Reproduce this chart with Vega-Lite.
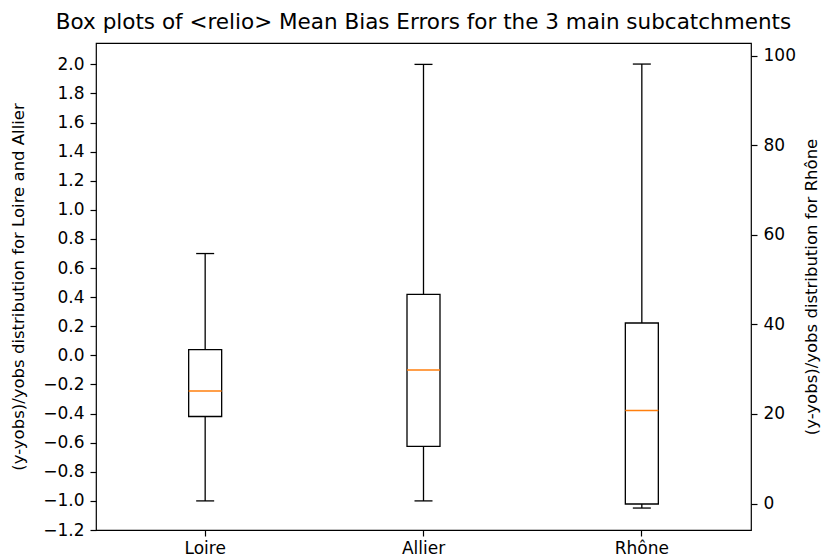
{
  "$schema": "https://vega.github.io/schema/vega-lite/v6.json",
  "width": 655,
  "height": 487,
  "autosize": {"type": "none"},
  "padding": {"left": 96, "top": 43, "right": 73, "bottom": 28},
  "background": "white",
  "title": {
    "text": "Box plots of <relio> Mean Bias Errors for the 3 main subcatchments",
    "font": "DejaVu Sans",
    "fontSize": 21.5,
    "fontWeight": "normal",
    "color": "black",
    "anchor": "middle",
    "frame": "group",
    "offset": 10
  },
  "data": {
    "values": [
      {"site": "Loire", "side": "left", "lo": -1.0, "q1": -0.42, "med": -0.245, "q3": 0.04, "hi": 0.70},
      {"site": "Allier", "side": "left", "lo": -1.0, "q1": -0.625, "med": -0.10, "q3": 0.42, "hi": 2.0},
      {"site": "Rhône", "side": "right", "lo": -1.0, "q1": -0.1, "med": 20.8, "q3": 40.3, "hi": 98.1}
    ]
  },
  "encoding": {
    "x": {
      "field": "site",
      "type": "nominal",
      "sort": ["Loire", "Allier", "Rhône"],
      "scale": {"paddingInner": 0, "paddingOuter": 0},
      "axis": {"title": null, "labelAngle": 0, "labelPadding": 4}
    }
  },
  "layer": [
    {
      "transform": [{"filter": "datum.side == 'left'"}],
      "layer": [
        {
          "mark": {"type": "rule", "color": "black", "strokeWidth": 1.3},
          "encoding": {
            "y": {"field": "lo", "type": "quantitative", "scale": {"domain": [-1.2, 2.147], "nice": false, "zero": false},
              "axis": {"orient": "left", "title": "(y-yobs)/yobs distribution for Loire and Allier", "values": [-1.2, -1.0, -0.8, -0.6, -0.4, -0.2, 0.0, 0.2, 0.4, 0.6, 0.8, 1.0, 1.2, 1.4, 1.6, 1.8, 2.0], "format": ".1f", "titlePadding": 16, "labelPadding": 6}},
            "y2": {"field": "hi"}
          }
        },
        {
          "mark": {"type": "bar", "fill": "white", "stroke": "black", "strokeWidth": 1.3, "width": 33},
          "encoding": {
            "y": {"field": "q1", "type": "quantitative", "scale": {"domain": [-1.2, 2.147], "nice": false, "zero": false},
              "axis": {"orient": "left", "title": "(y-yobs)/yobs distribution for Loire and Allier", "values": [-1.2, -1.0, -0.8, -0.6, -0.4, -0.2, 0.0, 0.2, 0.4, 0.6, 0.8, 1.0, 1.2, 1.4, 1.6, 1.8, 2.0], "format": ".1f", "titlePadding": 16, "labelPadding": 6}},
            "y2": {"field": "q3"}
          }
        },
        {
          "mark": {"type": "tick", "color": "#ff7f0e", "thickness": 1.5, "size": 33, "opacity": 1},
          "encoding": {
            "y": {"field": "med", "type": "quantitative", "scale": {"domain": [-1.2, 2.147], "nice": false, "zero": false},
              "axis": {"orient": "left", "title": "(y-yobs)/yobs distribution for Loire and Allier", "values": [-1.2, -1.0, -0.8, -0.6, -0.4, -0.2, 0.0, 0.2, 0.4, 0.6, 0.8, 1.0, 1.2, 1.4, 1.6, 1.8, 2.0], "format": ".1f", "titlePadding": 16, "labelPadding": 6}}
          }
        },
        {
          "mark": {"type": "tick", "color": "black", "thickness": 1.3, "size": 18, "opacity": 1},
          "encoding": {
            "y": {"field": "lo", "type": "quantitative", "scale": {"domain": [-1.2, 2.147], "nice": false, "zero": false},
              "axis": {"orient": "left", "title": "(y-yobs)/yobs distribution for Loire and Allier", "values": [-1.2, -1.0, -0.8, -0.6, -0.4, -0.2, 0.0, 0.2, 0.4, 0.6, 0.8, 1.0, 1.2, 1.4, 1.6, 1.8, 2.0], "format": ".1f", "titlePadding": 16, "labelPadding": 6}}
          }
        },
        {
          "mark": {"type": "tick", "color": "black", "thickness": 1.3, "size": 18, "opacity": 1},
          "encoding": {
            "y": {"field": "hi", "type": "quantitative", "scale": {"domain": [-1.2, 2.147], "nice": false, "zero": false},
              "axis": {"orient": "left", "title": "(y-yobs)/yobs distribution for Loire and Allier", "values": [-1.2, -1.0, -0.8, -0.6, -0.4, -0.2, 0.0, 0.2, 0.4, 0.6, 0.8, 1.0, 1.2, 1.4, 1.6, 1.8, 2.0], "format": ".1f", "titlePadding": 16, "labelPadding": 6}}
          }
        }
      ]
    },
    {
      "transform": [{"filter": "datum.side == 'right'"}],
      "layer": [
        {
          "mark": {"type": "rule", "color": "black", "strokeWidth": 1.3},
          "encoding": {
            "y": {"field": "lo", "type": "quantitative", "scale": {"domain": [-5.9, 102.8], "nice": false, "zero": false},
              "axis": {"orient": "right", "title": "(y-yobs)/yobs distribution for Rhône", "titleAngle": 270, "values": [0, 20, 40, 60, 80, 100], "titlePadding": 24, "labelPadding": 6}},
            "y2": {"field": "hi"}
          }
        },
        {
          "mark": {"type": "bar", "fill": "white", "stroke": "black", "strokeWidth": 1.3, "width": 33},
          "encoding": {
            "y": {"field": "q1", "type": "quantitative", "scale": {"domain": [-5.9, 102.8], "nice": false, "zero": false},
              "axis": {"orient": "right", "title": "(y-yobs)/yobs distribution for Rhône", "titleAngle": 270, "values": [0, 20, 40, 60, 80, 100], "titlePadding": 24, "labelPadding": 6}},
            "y2": {"field": "q3"}
          }
        },
        {
          "mark": {"type": "tick", "color": "#ff7f0e", "thickness": 1.5, "size": 33, "opacity": 1},
          "encoding": {
            "y": {"field": "med", "type": "quantitative", "scale": {"domain": [-5.9, 102.8], "nice": false, "zero": false},
              "axis": {"orient": "right", "title": "(y-yobs)/yobs distribution for Rhône", "titleAngle": 270, "values": [0, 20, 40, 60, 80, 100], "titlePadding": 24, "labelPadding": 6}}
          }
        },
        {
          "mark": {"type": "tick", "color": "black", "thickness": 1.3, "size": 18, "opacity": 1},
          "encoding": {
            "y": {"field": "lo", "type": "quantitative", "scale": {"domain": [-5.9, 102.8], "nice": false, "zero": false},
              "axis": {"orient": "right", "title": "(y-yobs)/yobs distribution for Rhône", "titleAngle": 270, "values": [0, 20, 40, 60, 80, 100], "titlePadding": 24, "labelPadding": 6}}
          }
        },
        {
          "mark": {"type": "tick", "color": "black", "thickness": 1.3, "size": 18, "opacity": 1},
          "encoding": {
            "y": {"field": "hi", "type": "quantitative", "scale": {"domain": [-5.9, 102.8], "nice": false, "zero": false},
              "axis": {"orient": "right", "title": "(y-yobs)/yobs distribution for Rhône", "titleAngle": 270, "values": [0, 20, 40, 60, 80, 100], "titlePadding": 24, "labelPadding": 6}}
          }
        }
      ]
    }
  ],
  "resolve": {"scale": {"y": "independent"}},
  "config": {
    "view": {"stroke": "black", "strokeWidth": 1.2},
    "axis": {
      "domain": false,
      "grid": false,
      "tickColor": "black",
      "tickSize": 6,
      "tickWidth": 1.2,
      "labelColor": "black",
      "labelFont": "DejaVu Sans",
      "labelFontSize": 17,
      "labelPadding": 4,
      "titleFont": "DejaVu Sans",
      "titleFontSize": 16.5,
      "titleFontWeight": "normal",
      "titleColor": "black"
    }
  }
}
